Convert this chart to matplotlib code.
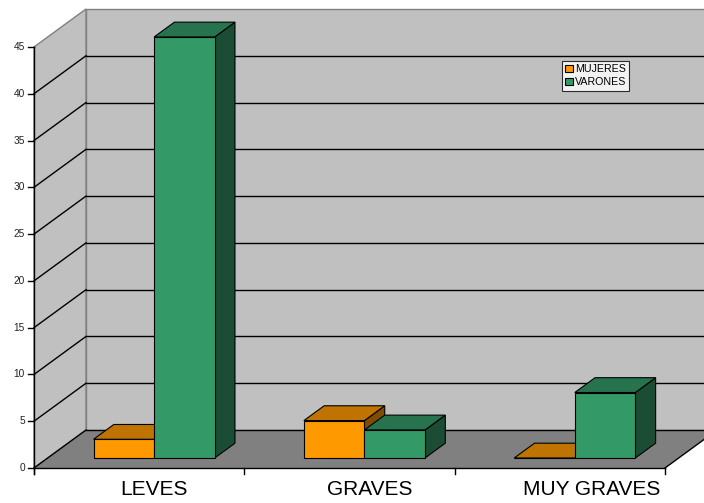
import matplotlib
matplotlib.use("Agg")
import matplotlib.pyplot as plt
from matplotlib.patches import Polygon, Patch

plt.rcParams['font.family'] = ['Liberation Sans', 'DejaVu Sans']

categories = ['LEVES', 'GRAVES', 'MUY GRAVES']
series_names = ['MUJERES', 'VARONES']
mujeres = [2, 4, 0]
varones = [45, 3, 7]
yticks = [0, 5, 10, 15, 20, 25, 30, 35, 40, 45]

ymax = 45
DX = 0.2472   # depth offset in category units
DY = 4.06     # depth offset in value units

front_cols = ['#FF9900', '#339966']
top_cols = ['#BF7300', '#26734D']
side_cols = ['#804D00', '#1A4D33']

fig = plt.figure(figsize=(7.04, 5.03), dpi=100)
ax = fig.add_axes([0, 0, 1, 1])
ax.set_xlim(-0.1617, 3.1854)
ax.set_ylim(-3.741, 50.02)
ax.axis('off')


def P(x, y, z):
    return (x + z * DX, y + z * DY)


ncat = len(categories)
# walls and floor
ax.add_patch(Polygon([P(0, 0, 1), P(ncat, 0, 1), P(ncat, ymax, 1), P(0, ymax, 1)],
                     closed=True, facecolor='#C0C0C0', edgecolor='#808080', lw=1, zorder=1))
ax.add_patch(Polygon([P(0, 0, 0), P(0, 0, 1), P(0, ymax, 1), P(0, ymax, 0)],
                     closed=True, facecolor='#C0C0C0', edgecolor='#808080', lw=1, zorder=1))
ax.add_patch(Polygon([P(0, 0, 0), P(ncat, 0, 0), P(ncat, 0, 1), P(0, 0, 1)],
                     closed=True, facecolor='#808080', edgecolor='none', lw=0, zorder=1))

# gridlines
for v in yticks:
    if v == ymax:
        continue
    a, b = P(0, v, 1), P(ncat, v, 1)
    ax.plot([a[0], b[0]], [a[1], b[1]], color='black', lw=1, zorder=2)
    a, b = P(0, v, 0), P(0, v, 1)
    ax.plot([a[0], b[0]], [a[1], b[1]], color='black', lw=1, zorder=2)

# floor front & right edge
a, b = P(0, 0, 0), P(ncat, 0, 0)
ax.plot([a[0], b[0]], [a[1], b[1]], color='black', lw=1, zorder=2)
a, b = P(ncat, 0, 0), P(ncat, 0, 1)
ax.plot([a[0], b[0]], [a[1], b[1]], color='black', lw=1, zorder=2)

# value axis
ax.plot([0, 0], [-0.64, ymax], color='black', lw=1, zorder=2)
for v in yticks:
    ax.plot([-0.0285, 0], [v, v], color='black', lw=1, zorder=2)
    ax.text(-0.043, v, str(v), ha='right', va='center', fontsize=7.3, color='#222222')

# category ticks
for i in range(ncat + 1):
    ax.plot([i, i], [0, -0.64], color='black', lw=1, zorder=2)

# bars
bw = 0.288
start = 0.218
z0, z1 = 0.263, 0.653
series = [mujeres, varones]
for i in range(ncat):
    for s, vals in enumerate(series):
        h = vals[i]
        x0 = i + start + s * bw
        x1 = x0 + bw
        front = [P(x0, 0, z0), P(x1, 0, z0), P(x1, h, z0), P(x0, h, z0)]
        top = [P(x0, h, z0), P(x1, h, z0), P(x1, h, z1), P(x0, h, z1)]
        side = [P(x1, 0, z0), P(x1, 0, z1), P(x1, h, z1), P(x1, h, z0)]
        zo = 5 + i * 3 + s
        ax.add_patch(Polygon(side, closed=True, facecolor=side_cols[s], edgecolor='black', lw=0.8, zorder=zo))
        ax.add_patch(Polygon(top, closed=True, facecolor=top_cols[s], edgecolor='black', lw=0.8, zorder=zo))
        ax.add_patch(Polygon(front, closed=True, facecolor=front_cols[s], edgecolor='black', lw=0.8, zorder=zo))

# category labels
label_shift = [0.0, 0.027, 0.082]
for i, c in enumerate(categories):
    xc = i + start + bw + z0 * DX + label_shift[i]
    ax.text(xc, -2.35, c, ha='center', va='center', fontsize=15, color='black')

handles = [Patch(facecolor=front_cols[k], edgecolor='black', lw=0.8, label=series_names[k]) for k in range(2)]
leg = fig.legend(handles=handles, loc='upper left', bbox_to_anchor=(562 / 704, 1 - 61 / 503),
                 fontsize=7.7, frameon=True, fancybox=False, edgecolor='black',
                 handlelength=0.7, handleheight=0.7, handletextpad=0.2,
                 borderpad=0.3, labelspacing=0.3, borderaxespad=0)
leg.get_frame().set_linewidth(0.8)

fig.savefig('out.png', dpi=100)
